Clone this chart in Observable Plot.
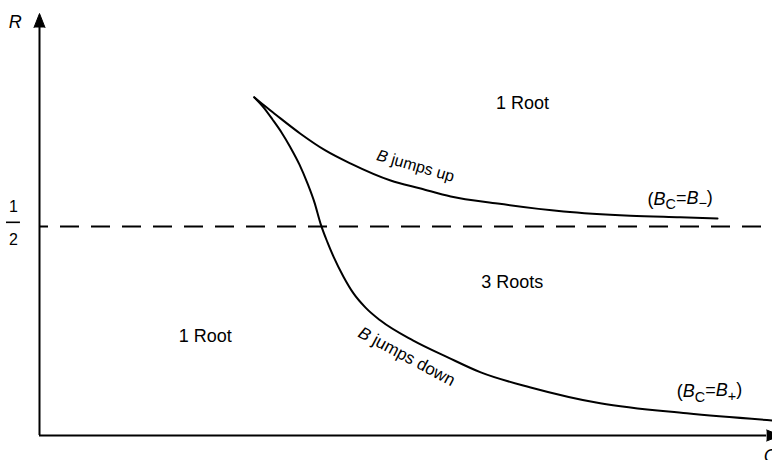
<!DOCTYPE html>
<html><head><meta charset="utf-8">
<script src="https://cdn.jsdelivr.net/npm/d3@7"></script>
<script src="https://cdn.jsdelivr.net/npm/@observablehq/plot@0.6"></script>
<style>body{margin:0;background:#fff;} svg{display:block;}</style>
</head><body><div id="chart"></div>
<script>
// Upper branch (B_C = B_-): B jumps up
const cUp = [2.93, 3.04, 3.22, 3.56, 3.90, 4.24, 4.79, 5.20, 5.61, 6.25, 7.15, 8.06, 8.74, 9.25];
const rUp = [0.809, 0.793, 0.768, 0.722, 0.682, 0.651, 0.610, 0.591, 0.572, 0.555, 0.536, 0.526, 0.522, 0.519];
// Lower branch (B_C = B_+): B jumps down
const cDown = [2.93, 3.056, 3.179, 3.302, 3.424, 3.547, 3.656, 3.752, 3.834, 3.929, 4.011, 4.147, 4.284, 4.448, 4.652, 5.10, 5.57, 6.02, 6.70, 7.65, 8.83, 10.0];
const rDown = [0.809, 0.785, 0.756, 0.725, 0.689, 0.648, 0.603, 0.557, 0.507, 0.462, 0.428, 0.380, 0.340, 0.306, 0.275, 0.227, 0.187, 0.151, 0.115, 0.077, 0.053, 0.036];
const halfR = [0.5];
const regionLabels = ["1 Root", "3 Roots", "1 Root"];
const branchLabels = ["B jumps up", "B jumps down"];
const branchNames = ["(B_C=B_\u2212)", "(B_C=B_+)"];
const axisNames = ["R", "C"];

const upper = cUp.map((c, i) => ({C: c, R: rUp[i]}));
const lower = cDown.map((c, i) => ({C: c, R: rDown[i]}));

const font = "'Liberation Sans', Arial, Helvetica, sans-serif";

const chart = Plot.plot({
  width: 772, height: 460,
  marginLeft: 39, marginRight: 0, marginTop: 17, marginBottom: 25,
  x: {domain: [0, 10], axis: null},
  y: {domain: [0, 1], axis: null},
  style: {fontFamily: font, background: "white", color: "black"},
  marks: [
    // axes
    Plot.ruleX([0], {y1: 0, y2: 0.976, strokeWidth: 2}),
    Plot.ruleY([0], {x1: 0, x2: 9.92, strokeWidth: 2}),
    Plot.vector([0], {x: 0, y: 0.976, rotate: 0, length: 14, r: 5.5, shape: "spike", anchor: "start", fill: "black", stroke: "black", strokeWidth: 1}),
    Plot.vector([0], {x: 9.92, y: 0, rotate: 90, length: 14, r: 5.5, shape: "spike", anchor: "start", fill: "black", stroke: "black", strokeWidth: 1}),
    // R = 1/2 dashed line
    Plot.ruleY(halfR, {x1: 0, x2: 10.6, strokeWidth: 2, strokeDasharray: "19,12", strokeDashoffset: 10}),
    // fraction 1/2
    Plot.ruleY(halfR, {y: d => d + 0.01, x1: -0.45, x2: -0.26, strokeWidth: 1.6}),
    Plot.text(["1"], {x: -0.355, y: 0.548, text: d => d, fontSize: 16}),
    Plot.text(["2"], {x: -0.355, y: 0.468, text: d => d, fontSize: 16}),
    // branches
    Plot.line(upper, {x: "C", y: "R", curve: "monotone-x", strokeWidth: 2}),
    Plot.line(lower, {x: "C", y: "R", curve: "monotone-x", strokeWidth: 2}),
    // region labels
    Plot.text([regionLabels[0]], {x: 6.59, y: 0.794, text: d => d, fontSize: 18}),
    Plot.text([regionLabels[1]], {x: 6.45, y: 0.366, text: d => d, fontSize: 18}),
    Plot.text([regionLabels[2]], {x: 2.26, y: 0.237, text: d => d, fontSize: 18}),
    // branch labels
    Plot.text([branchLabels[0]], {x: 5.13, y: 0.645, rotate: 16, text: d => d, fontSize: 16}),
    Plot.text([branchLabels[1]], {x: 5.01, y: 0.189, rotate: 28, text: d => d, fontSize: 17}),
    Plot.text([branchNames[0]], {x: 8.74, y: 0.565, text: d => d, fontSize: 18}),
    Plot.text([branchNames[1]], {x: 9.14, y: 0.105, text: d => d, fontSize: 18}),
    // axis names
    Plot.text([axisNames[0]], {x: -0.33, y: 0.988, text: d => d, fontSize: 18, fontStyle: "italic"}),
    Plot.text([axisNames[1]], {x: 9.97, y: -0.05, text: d => d, fontSize: 18, fontStyle: "italic"})
  ]
});

// rich text: italic B, subscripts after "_"
d3.select(chart).selectAll("text").each(function() {
  const s = this.textContent;
  if (!s.includes("B")) return;
  const el = d3.select(this);
  el.text("");
  let i = 0, reset = false;
  const add = (txt) => {
    const t = el.append("tspan").text(txt);
    if (reset) { t.attr("dy", "-0.3em"); reset = false; }
    return t;
  };
  while (i < s.length) {
    const ch = s[i];
    if (ch === "_") {
      const t = add(s[i + 1]);
      t.attr("dy", "0.3em").attr("font-size", "80%");
      reset = true;
      i += 2;
    } else if (ch === "B") {
      add("B").attr("font-style", "italic");
      i++;
    } else {
      let j = i;
      while (j < s.length && s[j] !== "_" && s[j] !== "B") j++;
      add(s.slice(i, j));
      i = j;
    }
  }
});

document.getElementById("chart").append(chart);
</script>
</body></html>
